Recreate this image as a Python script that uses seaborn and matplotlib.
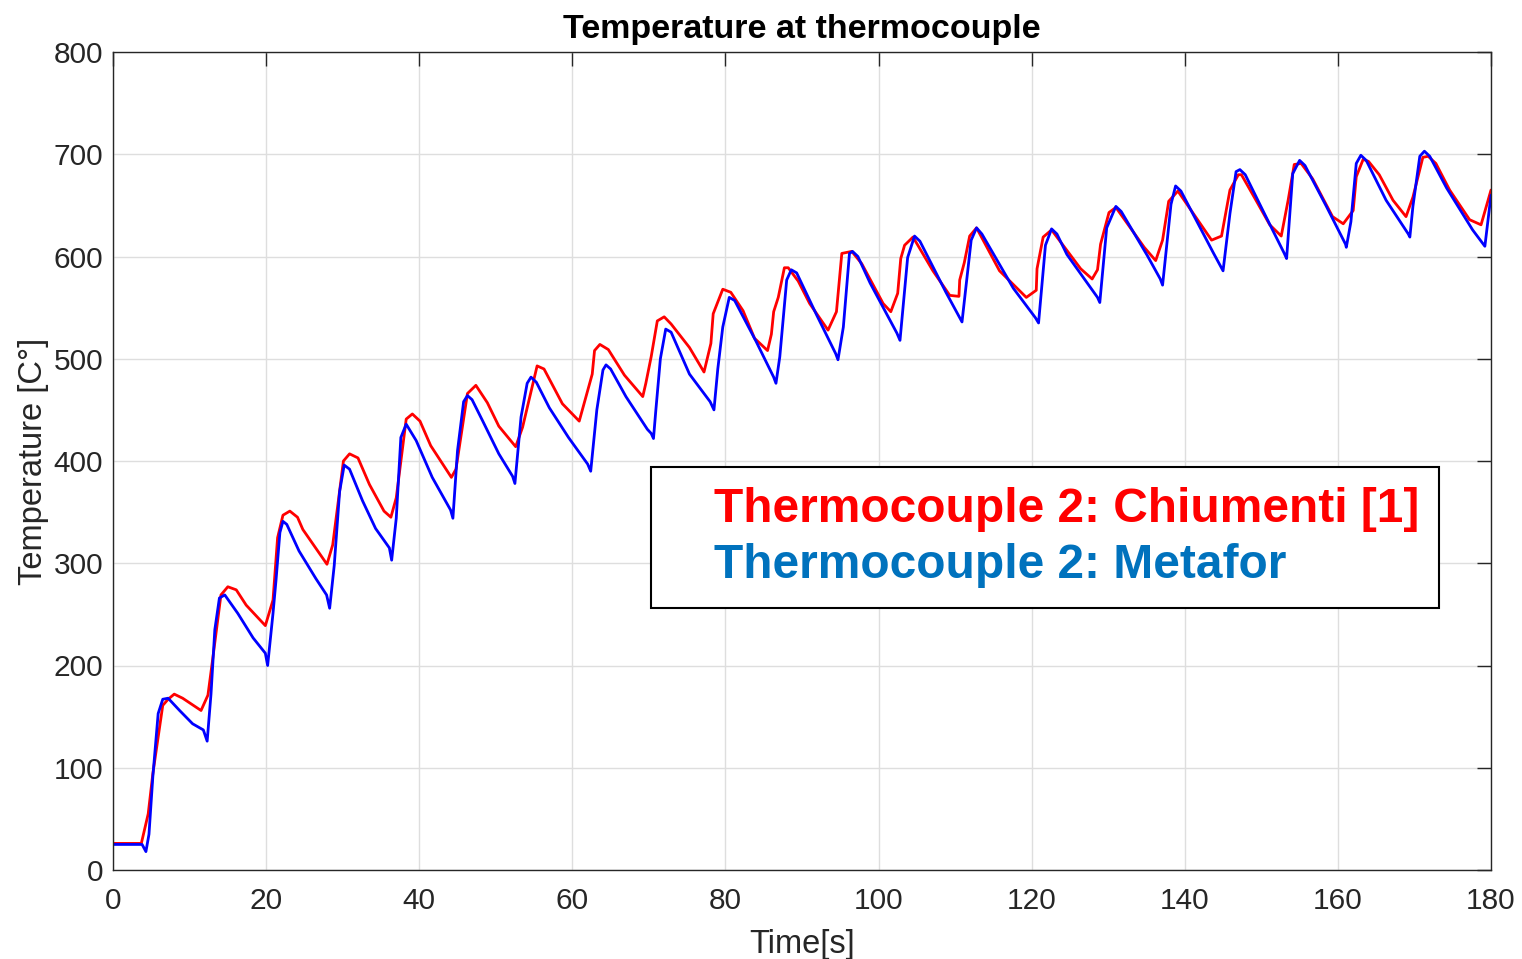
import numpy as np
import pandas as pd
import matplotlib
matplotlib.use("Agg")
import matplotlib.pyplot as plt
import seaborn as sns

# ---- data ----
chiumenti_t = [0, 3.7, 4.6, 5.2, 6.5, 7.2, 8.0, 9.1, 11.5, 12.4, 13.0, 14.1, 15.0, 16.1, 17.4, 19.9,
               20.9, 21.5, 22.2, 23.1, 24.1, 24.8, 27.95, 28.7, 30.1, 30.9, 32.0, 33.5, 35.4, 36.3,
               37.0, 38.3, 39.1, 40.1, 41.5, 44.2, 44.8, 46.3, 47.4, 48.9, 50.4, 52.6, 53.5, 55.4,
               56.3, 58.7, 60.9, 62.6, 62.9, 63.6, 64.7, 66.8, 69.2, 69.6, 70.3, 71.1, 72.0, 72.9,
               75.3, 77.2, 78.1, 78.4, 79.65, 80.7, 82.3, 83.8, 85.5, 86.0, 86.3, 86.9, 87.7, 88.2,
               89.5, 91.0, 93.4, 94.5, 95.2, 96.5, 97.8, 100.6, 101.6, 102.5, 102.9, 103.4, 104.5,
               107.1, 109.3, 110.5, 110.6, 111.2, 111.9, 112.8, 115.8, 119.3, 120.6, 120.7, 121.5,
               122.6, 126.4, 127.9, 128.6, 129.0, 130.1, 131.0, 134.7, 136.2, 137.1, 137.9, 139.1,
               143.5, 144.8, 145.9, 147.0, 147.4, 149.3, 151.1, 152.6, 153.5, 154.3, 155.2, 156.7,
               159.3, 160.7, 162.0, 162.4, 163.3, 164.0, 165.4, 167.2, 168.9, 169.8, 171.1, 171.8,
               172.8, 174.6, 177.2, 178.7, 180]
chiumenti_T = [26, 26, 55, 94, 161, 167, 172, 168, 156, 171, 205, 269, 277, 274, 259, 239,
               264, 325, 347, 351, 345, 333, 299, 318, 400, 407, 403, 377, 351, 345,
               364, 441, 446, 439, 415, 384, 392, 466, 474, 457, 434, 414, 433, 493,
               490, 456, 439, 485, 508, 514, 509, 484, 463, 476, 502, 537, 541, 534,
               511, 487, 515, 544, 568, 565, 547, 520, 508, 524, 546, 560, 589, 589,
               576, 554, 528, 546, 603, 605, 593, 554, 546, 564, 598, 611, 619,
               586, 562, 561, 577, 594, 620, 628, 586, 560, 567, 588, 619,
               626, 588, 578, 587, 612, 643, 648, 609, 596, 616, 654, 664,
               616, 620, 665, 680, 680, 655, 631, 620, 655, 690, 691, 676,
               639, 632, 645, 678, 695, 693, 680, 655, 639, 658, 697, 698,
               691, 665, 636, 631, 665]

metafor_t = [0, 3.8, 4.3, 4.7, 5.2, 5.9, 6.5, 7.2, 8.7, 10.4, 11.8, 12.3, 12.8, 13.3, 13.9, 14.6,
             16.3, 18.3, 19.9, 20.2, 20.9, 21.3, 21.8, 22.2, 22.7, 24.3, 26.5, 27.9, 28.3, 28.9,
             29.6, 30.2, 30.9, 32.6, 34.3, 36.1, 36.4, 37.0, 37.6, 38.3, 39.6, 41.7, 44.1, 44.4,
             45.0, 45.8, 46.3, 46.9, 48.3, 50.4, 52.2, 52.5, 53.3, 54.1, 54.6, 55.3, 57.0, 59.5,
             62.0, 62.4, 63.2, 64.0, 64.4, 65.0, 67.0, 69.8, 70.3, 70.6, 70.9, 71.5, 72.2, 72.9,
             75.3, 78.0, 78.5, 79.0, 79.65, 80.5, 81.2, 84.0, 86.3, 86.6, 87.1, 88.0, 88.6, 89.3,
             91.9, 94.4, 94.7, 95.4, 96.2, 96.6, 97.3, 98.9, 102.4, 102.8, 103.8, 104.7, 105.4,
             108.8, 110.6, 110.9, 112.1, 112.8, 113.5, 117.6, 120.5, 120.9, 121.8, 122.6, 123.3,
             124.6, 128.6, 128.9, 129.8, 131.0, 131.7, 135.1, 136.8, 137.1, 138.2, 138.8, 139.5,
             143.7, 145.0, 145.9, 146.7, 147.2, 147.9, 150.4, 153.0, 153.3, 154.1, 155.0, 155.7,
             158.5, 161.0, 161.1, 161.7, 162.4, 163.0, 163.7, 166.3, 169.2, 169.4, 169.8, 170.7,
             171.3, 172.0, 174.2, 177.6, 179.2, 180]
metafor_T = [25, 25, 18, 35, 91, 153, 167, 168, 156, 143, 137, 126, 172, 235, 266, 269,
             251, 227, 212, 200, 251, 284, 330, 341, 338, 312, 285, 269, 256, 298,
             370, 396, 392, 361, 334, 315, 303, 344, 423, 436, 420, 384, 352, 344,
             410, 458, 464, 460, 439, 407, 385, 378, 443, 476, 482, 477, 452, 423,
             397, 390, 450, 489, 494, 490, 463, 431, 427, 422, 449, 500, 529, 526,
             485, 458, 450, 490, 531, 560, 557, 517, 482, 476, 502, 577, 587, 584,
             543, 505, 499, 531, 603, 605, 600, 574, 525, 518, 599, 620, 615,
             565, 540, 536, 616, 628, 622, 569, 540, 535, 611, 627, 622,
             602, 560, 555, 628, 649, 644, 601, 578, 572, 651, 669, 664,
             604, 586, 642, 683, 685, 680, 642, 603, 598, 681, 694, 689,
             649, 612, 609, 634, 691, 699, 694, 655, 622, 619, 649, 698,
             703, 698, 667, 626, 610, 660]

label_chiumenti = "Thermocouple 2: Chiumenti [1]"
label_metafor = "Thermocouple 2: Metafor"
x_ticks = [0, 20, 40, 60, 80, 100, 120, 140, 160, 180]
y_ticks = [0, 100, 200, 300, 400, 500, 600, 700, 800]

df_c = pd.DataFrame({"t": chiumenti_t, "T": chiumenti_T})
df_m = pd.DataFrame({"t": metafor_t, "T": metafor_T})

sns.set_style("white")
plt.rcParams["font.family"] = ["Liberation Sans", "DejaVu Sans"]

fig = plt.figure(figsize=(15.22, 9.59), dpi=100)
ax = fig.add_axes([113 / 1522, 1 - 870 / 959, (1491 - 113) / 1522, (870 - 52) / 959])

sns.lineplot(data=df_c, x="t", y="T", ax=ax, color="#ff0000", linewidth=2.0,
             estimator=None, label=label_chiumenti)
sns.lineplot(data=df_m, x="t", y="T", ax=ax, color="#0000ff", linewidth=2.0,
             estimator=None, label=label_metafor)

ax.set_xlim(0, 180)
ax.set_ylim(0, 800)
ax.set_xticks(x_ticks)
ax.set_yticks(y_ticks)
ax.grid(True, color="#dedede", linewidth=1.0)
ax.set_axisbelow(True)

for s in ax.spines.values():
    s.set_visible(True)
    s.set_color("#262626")
    s.set_linewidth(1.0)

ax.tick_params(axis="both", which="both", direction="in", length=10, width=1.0,
               color="#262626", top=True, right=True, labelsize=21.5, labelcolor="#262626")
ax.tick_params(axis="x", pad=12)
ax.tick_params(axis="y", pad=7)

ax.set_xlabel("Time[s]", fontsize=23.5, color="#262626", labelpad=10)
ax.set_ylabel("Temperature [C°]", fontsize=23.5, color="#262626", labelpad=3)
ax.set_title("Temperature at thermocouple", fontsize=24.5, fontweight="bold",
             color="black", pad=10)

box_left = (651 - 113) / 1378
box_top = (870 - 467) / 818
box_bottom = (870 - 602) / 818
box_width = (1439 - 651) / 1378
leg = ax.legend(loc="upper left",
                bbox_to_anchor=(box_left, box_bottom, box_width, box_top - box_bottom),
                mode="expand", handlelength=0.5, handletextpad=0.4, borderaxespad=0,
                frameon=True, fancybox=False, edgecolor="black", framealpha=1,
                borderpad=0.42, labelspacing=0.22,
                prop={"family": "Liberation Sans", "weight": "bold", "size": 34.5})
leg.get_frame().set_linewidth(1.5)
for h in leg.legend_handles:
    h.set_visible(False)
for txt, col in zip(leg.get_texts(), ["#ff0000", "#0072bd"]):
    txt.set_color(col)

fig.savefig("out.png", dpi=100)
